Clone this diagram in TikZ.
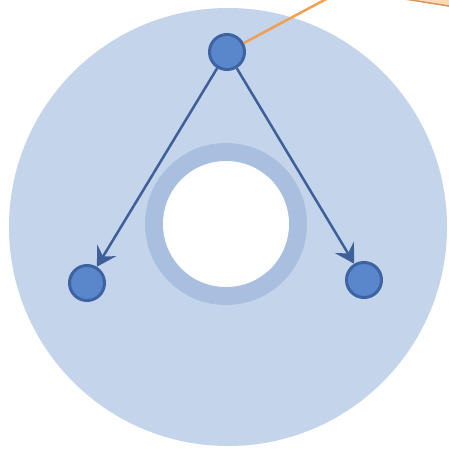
\documentclass[tikz,border=0pt]{standalone}
\usepackage{xcolor}
\usepackage{tikz}
\usetikzlibrary{arrows.meta}
\definecolor{discofondo}{RGB}{196,212,234}
\definecolor{anillo}{RGB}{168,191,224}
\definecolor{nodoazul}{RGB}{90,135,203}
\definecolor{bordeazul}{RGB}{61,99,163}
\definecolor{flechaazul}{RGB}{62,95,154}
\definecolor{naranja}{RGB}{240,160,80}
\definecolor{notafondo}{RGB}{252,218,180}
\definecolor{notaborde}{RGB}{214,150,100}

\begin{document}
\begin{tikzpicture}[
  x=1pt, y=-1pt,
  nodo/.style={circle, fill=nodoazul, draw=bordeazul, line width=3pt,
               inner sep=0pt, minimum size=35pt},
  flecha/.style={draw=flechaazul, line width=2.5pt,
                 -{Stealth[length=19pt, width=22pt, inset=7pt]}},
  enlace/.style={draw=naranja, line width=2.5pt},
]
% --- Fondo y recorte -----------------------------------------------------------
\fill[white] (0,0) rectangle (449,449);
\useasboundingbox (0,0) rectangle (449,449);
\clip (0,0) rectangle (449,449);
% --- Disco y anillo central ----------------------------------------------------
\fill[discofondo] (228,227) circle (219pt);
\fill[anillo] (226,224) circle (81pt);
\fill[white] (226,224) circle (63pt);
% --- Nota (fuera del cuadro) ---------------------------------------------------
\draw[fill=notafondo, draw=notaborde, line width=1.5pt, rounded corners=8pt]
  (390,-60) -- (392,-3) -- (480,11) -- (480,-60) -- cycle;
\coordinate (nota) at (345,-11);
% --- Nodos -------------------------------------------------------------------------
\node[nodo] (arriba) at (227,52) {};
\node[nodo] (izq) at (87,283) {};
\node[nodo] (der) at (364,280) {};
% --- Conexiones ------------------------------------------------------------------
\draw[enlace] (arriba) -- (nota);
\draw[flecha] (arriba) -- (izq);
\draw[flecha] (arriba) -- (der);
\end{tikzpicture}
\end{document}
